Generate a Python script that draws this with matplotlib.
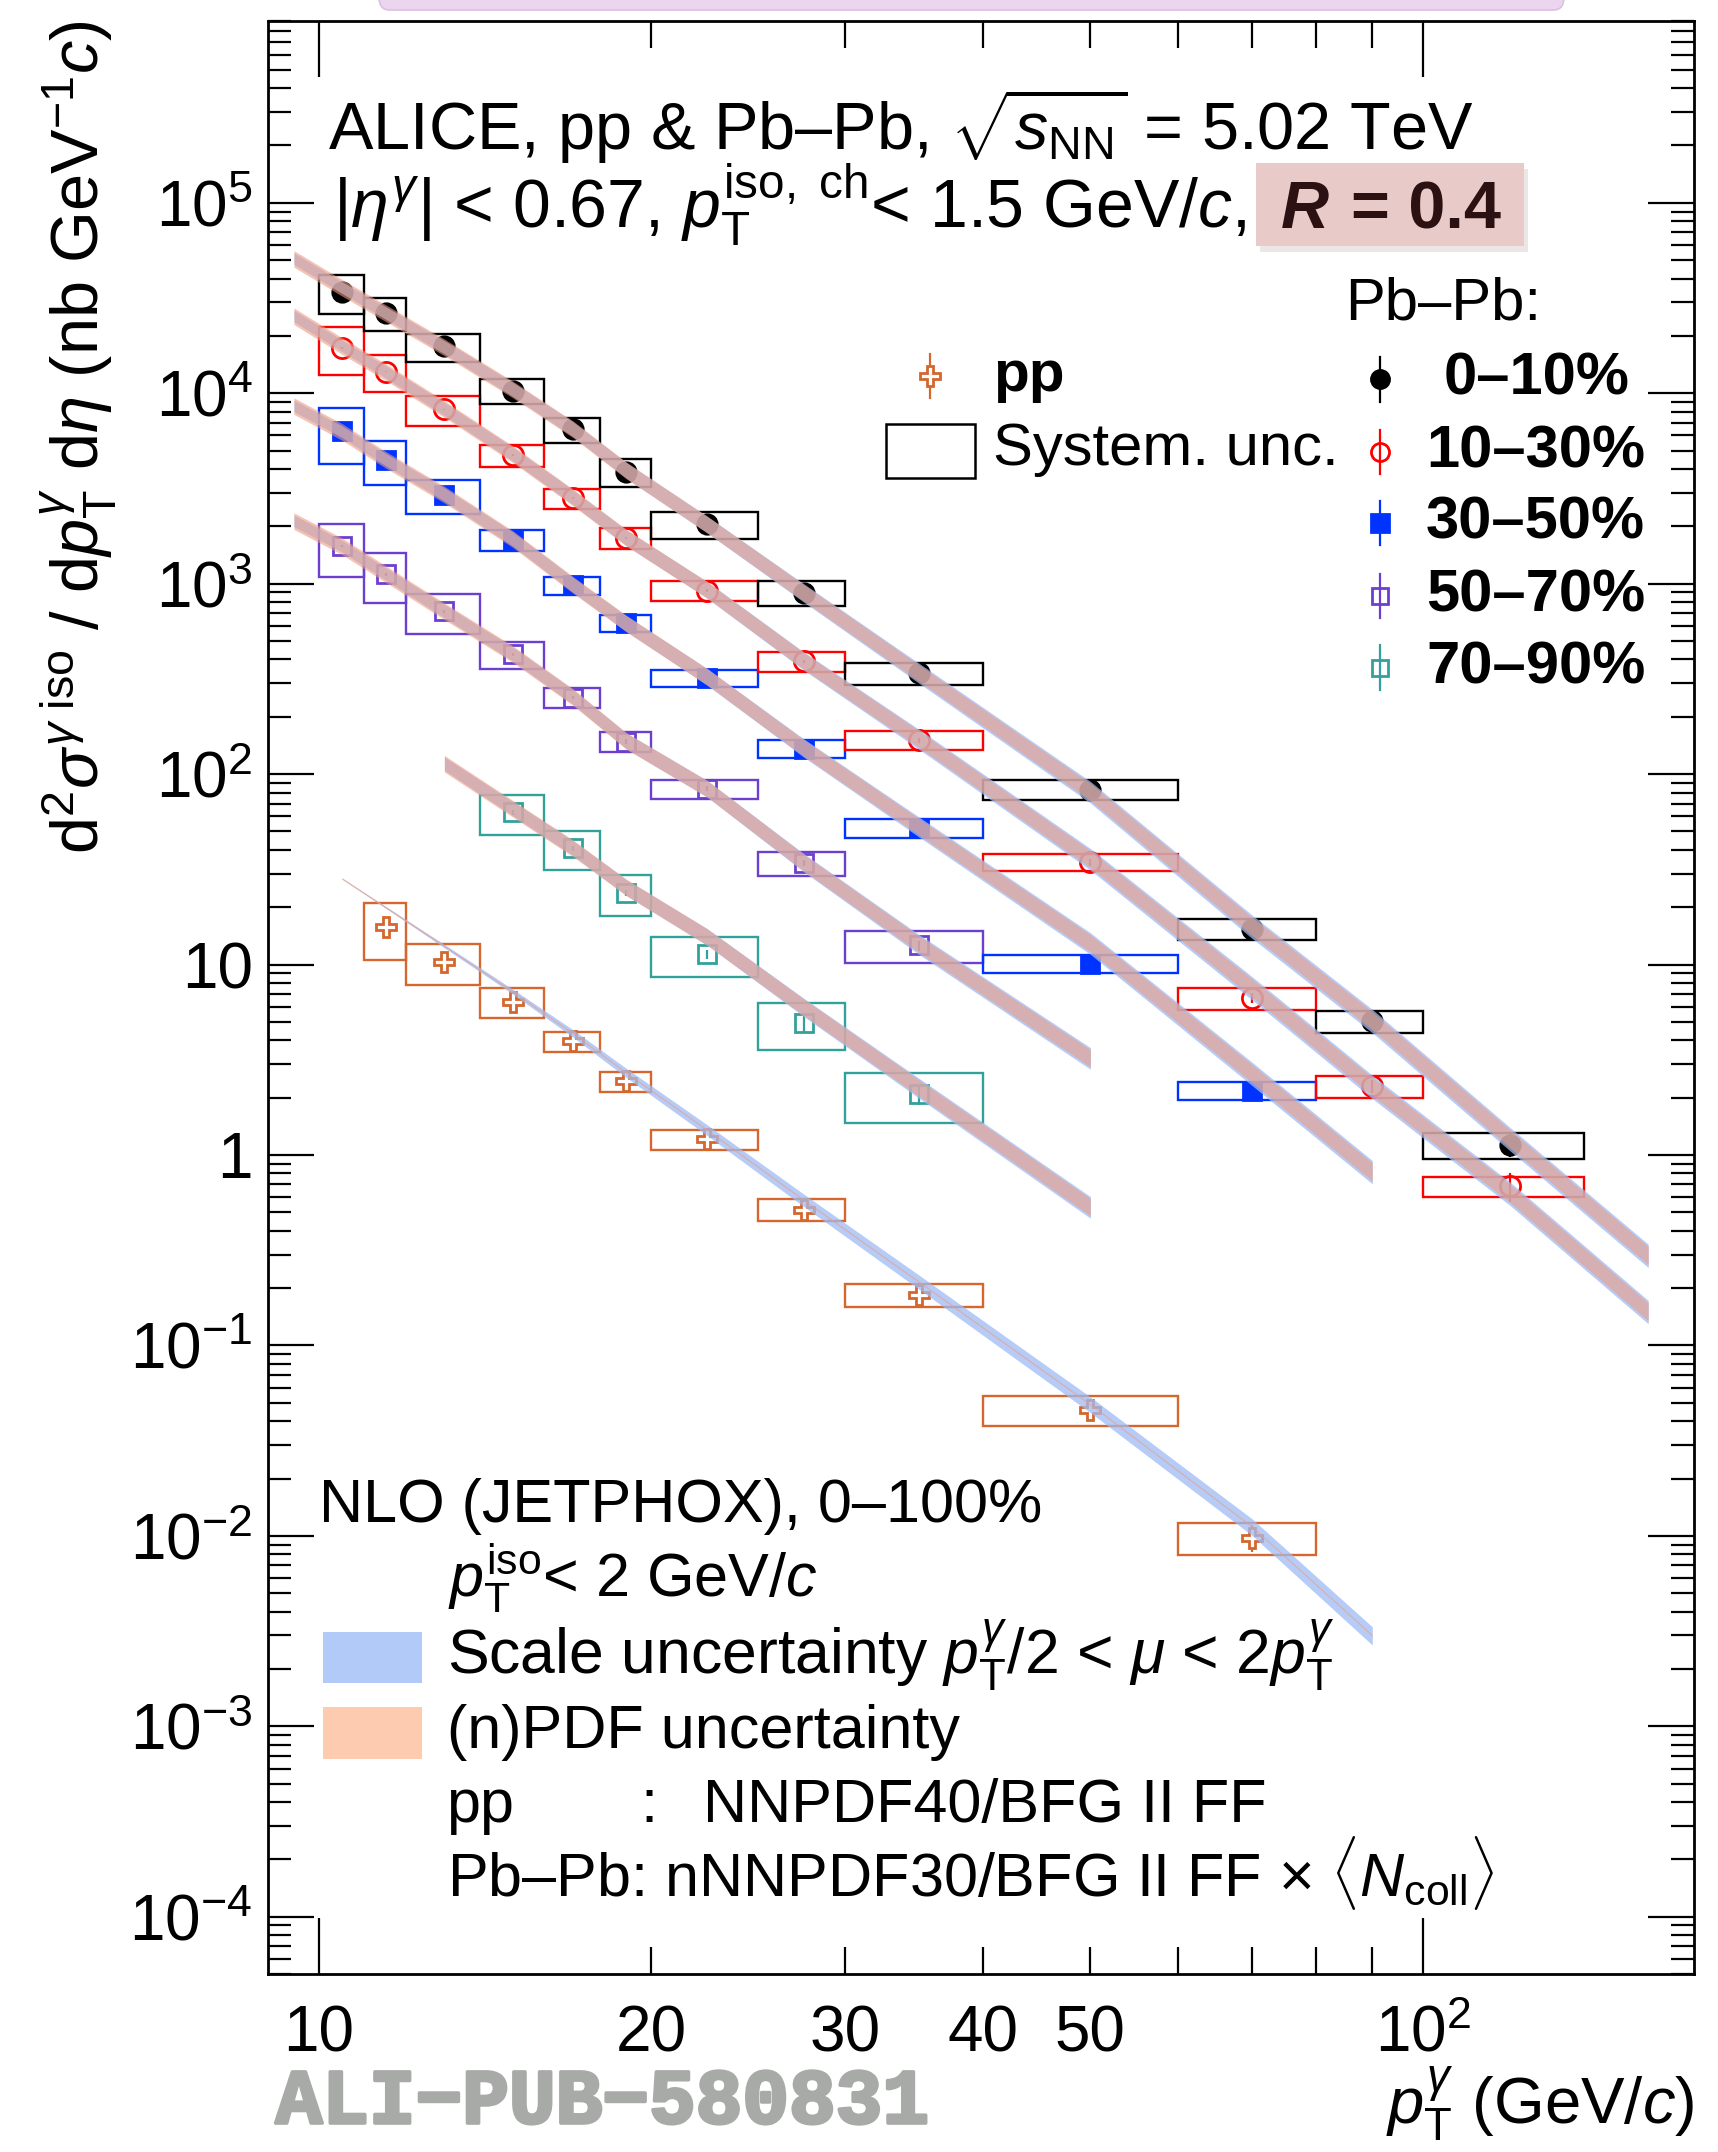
import numpy as np
import matplotlib
matplotlib.use("Agg")
import matplotlib.pyplot as plt
import matplotlib.patheffects as pe
from matplotlib.patches import Rectangle, FancyBboxPatch
from matplotlib.ticker import FixedLocator, FuncFormatter, NullFormatter

plt.rcParams['font.family'] = ['Liberation Sans', 'DejaVu Sans']
plt.rcParams['mathtext.fontset'] = 'custom'
plt.rcParams['mathtext.rm'] = 'Liberation Sans'
plt.rcParams['mathtext.it'] = 'Liberation Sans:italic'
plt.rcParams['mathtext.bf'] = 'Liberation Sans:bold'

nan = np.nan

# pT bins (GeV/c)
bin_lo = [10, 11, 12, 14, 16, 18, 20, 25, 30, 40, 60, 80, 100]
bin_hi = [11, 12, 14, 16, 18, 20, 25, 30, 40, 60, 80, 100, 140]
pt = [10.5, 11.5, 13, 15, 17, 19, 22.5, 27.5, 35, 50, 70, 90, 120]

# measured cross sections (nb GeV^-1 c), relative syst. and stat. uncertainties
y_0010 = [3.39e4, 2.64e4, 1.76e4, 1.03e4, 6.46e3, 3.86e3, 2.05e3, 897, 339, 82.7, 15.4, 5.04, 1.13]
sys_0010 = [0.23, 0.20, 0.17, 0.15, 0.15, 0.17, 0.16, 0.15, 0.13, 0.12, 0.13, 0.13, 0.16]
stat_0010 = [0.01, 0.01, 0.01, 0.01, 0.01, 0.015, 0.02, 0.02, 0.03, 0.04, 0.05, 0.07, 0.14]

y_1030 = [1.73e4, 1.30e4, 8.22e3, 4.73e3, 2.82e3, 1.74e3, 918, 391, 151, 34.4, 6.67, 2.30, 0.684]
sys_1030 = [0.28, 0.22, 0.18, 0.13, 0.12, 0.13, 0.12, 0.12, 0.11, 0.10, 0.13, 0.13, 0.12]
stat_1030 = [0.01, 0.01, 0.01, 0.01, 0.015, 0.015, 0.02, 0.02, 0.03, 0.04, 0.06, 0.08, 0.17]

y_3050 = [6.31e3, 4.45e3, 2.92e3, 1.70e3, 979, 622, 320, 136, 52.1, 10.1, 2.18, nan, nan]
sys_3050 = [0.33, 0.26, 0.20, 0.13, 0.11, 0.10, 0.10, 0.11, 0.11, 0.11, 0.11, nan, nan]
stat_3050 = [0.01, 0.01, 0.015, 0.015, 0.02, 0.02, 0.02, 0.03, 0.04, 0.05, 0.10, nan, nan]

y_5070 = [1.58e3, 1.12e3, 716, 425, 252, 148, 83.8, 34.1, 12.6, nan, nan, nan, nan]
sys_5070 = [0.31, 0.29, 0.24, 0.16, 0.12, 0.12, 0.115, 0.14, 0.19, nan, nan, nan, nan]
stat_5070 = [0.015, 0.015, 0.02, 0.02, 0.02, 0.03, 0.03, 0.04, 0.06, nan, nan, nan, nan]

y_7090 = [nan, nan, nan, 62.9, 40.9, 23.8, 11.3, 4.92, 2.08, nan, nan, nan, nan]
sys_7090 = [nan, nan, nan, 0.24, 0.23, 0.24, 0.24, 0.28, 0.29, nan, nan, nan, nan]
stat_7090 = [nan, nan, nan, 0.03, 0.03, 0.04, 0.05, 0.10, 0.12, nan, nan, nan, nan]

y_pp = [nan, 15.8, 10.3, 6.38, 3.97, 2.44, 1.21, 0.517, 0.185, 0.046, 0.0098, nan, nan]
sys_pp = [nan, 0.33, 0.24, 0.18, 0.12, 0.12, 0.12, 0.13, 0.14, 0.18, 0.19, nan, nan]
stat_pp = [nan, 0.01, 0.01, 0.01, 0.01, 0.015, 0.02, 0.02, 0.03, 0.06, 0.16, nan, nan]

# NLO JETPHOX curves
nlo_pt = [9.5, 10.5, 11.5, 13, 15, 17, 19, 22.5, 27.5, 35, 50, 70, 90, 120, 160]
nlo_0010 = [5.1e4, 3.6e4, 2.65e4, 1.75e4, 1.05e4, 6.5e3, 3.95e3, 2.05e3, 900, 340, 81, 16, 5.1, 1.22, 0.298]
nlo_1030 = [2.55e4, 1.78e4, 1.3e4, 8.3e3, 4.8e3, 2.85e3, 1.75e3, 930, 395, 153, 36, 7.6, 2.3, 0.63, 0.151]
nlo_3050 = [8.6e3, 6.3e3, 4.5e3, 2.95e3, 1.72e3, 990, 620, 325, 138, 53, 13, 2.7, 0.82, nan, nan]
nlo_5070 = [2.14e3, 1.58e3, 1.13e3, 720, 428, 255, 150, 84, 34.5, 12.8, 3.24, nan, nan, nan, nan]
nlo_7090 = [nan, nan, nan, 114, 66, 41, 25.5, 14, 6.0, 2.25, 0.535, nan, nan, nan, nan]
nlo_pp = [nan, 28.3, 20, 12.5, 7.2, 4.35, 2.7, 1.35, 0.58, 0.215, 0.049, 0.0112, 0.0030, nan, nan]
scale_pbpb = [0.07, 0.07, 0.075, 0.08, 0.085, 0.09, 0.095, 0.10, 0.11, 0.12, 0.13, 0.14, 0.14, 0.14, 0.14]
pdf_pbpb = [0.10, 0.10, 0.10, 0.10, 0.10, 0.10, 0.10, 0.10, 0.10, 0.10, 0.105, 0.11, 0.11, 0.11, 0.11]
scale_pp = [nan, 0.005, 0.01, 0.02, 0.03, 0.045, 0.055, 0.065, 0.075, 0.085, 0.095, 0.10, 0.11, nan, nan]
pdf_pp = [nan, 0.01, 0.01, 0.01, 0.01, 0.01, 0.01, 0.01, 0.01, 0.01, 0.01, 0.01, 0.01, nan, nan]

centralities = ["0–10%", "10–30%", "30–50%", "50–70%", "70–90%"]

c_black = "black"
c_red = "#ff0000"
c_blue = "#0033ff"
c_purple = "#6c3fcf"
c_teal = "#33a19b"
c_pp = "#d4662e"
c_scale = "#9ebcf5"
c_pdf = "#eb9d83"

fig = plt.figure(figsize=(17.18, 21.52), dpi=100)
ax = fig.add_axes([0.156, 0.0827, 0.830, 0.9075])
ax.set_xscale("log")
ax.set_yscale("log")
ax.set_xlim(9, 176)
ax.set_ylim(5e-5, 9e5)


def draw_series(y, sys, stat, color, marker, mfc, ms):
    for i in range(len(pt)):
        if np.isnan(y[i]):
            continue
        ax.add_patch(Rectangle((bin_lo[i], y[i] * (1 - sys[i])), bin_hi[i] - bin_lo[i],
                               2 * y[i] * sys[i], fill=False, ec=color, lw=1.7, zorder=2))
    ya = np.array(y)
    ax.errorbar(pt, ya, yerr=ya * np.array(stat), fmt=marker, color=color, mfc=mfc, mec=color,
                ms=ms, mew=2.0, elinewidth=1.6, capsize=0, zorder=3)


def draw_band(y, scale, pdf):
    y = np.array(y)
    m = ~np.isnan(y)
    x = np.array(nlo_pt)[m]
    yy = y[m]
    s = np.array(scale)[m]
    p = np.array(pdf)[m]
    ax.fill_between(x, yy * (1 - s), yy * (1 + s), color=c_scale, alpha=0.75, lw=0, zorder=4)
    ax.fill_between(x, yy * (1 - p), yy * (1 + p), color=c_pdf, alpha=0.6, lw=0, zorder=5)


draw_series(y_pp, sys_pp, stat_pp, c_pp, "P", "white", 15)
draw_series(y_7090, sys_7090, stat_7090, c_teal, "s", "none", 13)
draw_series(y_5070, sys_5070, stat_5070, c_purple, "s", "none", 13)
draw_series(y_3050, sys_3050, stat_3050, c_blue, "s", c_blue, 13)
draw_series(y_1030, sys_1030, stat_1030, c_red, "o", "none", 14.5)
draw_series(y_0010, sys_0010, stat_0010, c_black, "o", c_black, 14)

draw_band(nlo_0010, scale_pbpb, pdf_pbpb)
draw_band(nlo_1030, scale_pbpb, pdf_pbpb)
draw_band(nlo_3050, scale_pbpb, pdf_pbpb)
draw_band(nlo_5070, scale_pbpb, pdf_pbpb)
draw_band(nlo_7090, scale_pbpb, pdf_pbpb)
draw_band(nlo_pp, scale_pp, pdf_pp)

# axes / ticks, ROOT style
ax.xaxis.set_major_locator(FixedLocator([10, 100]))
ax.xaxis.set_minor_locator(FixedLocator([20, 30, 40, 50, 60, 70, 80, 90]))
ax.xaxis.set_major_formatter(FuncFormatter(lambda v, p: "10" if v == 10 else r"$10^{2}$"))
ax.xaxis.set_minor_formatter(FuncFormatter(lambda v, p: "%d" % v if v <= 50 else ""))

decades = [10.0 ** e for e in range(-4, 6)]
ax.yaxis.set_major_locator(FixedLocator(decades))
minors = [m * 10.0 ** e for e in range(-5, 6) for m in range(2, 10) if 5e-5 <= m * 10.0 ** e <= 9e5]
ax.yaxis.set_minor_locator(FixedLocator(minors))
ax.yaxis.set_minor_formatter(NullFormatter())


def yfmt(v, p):
    e = int(round(np.log10(v)))
    if e == 0:
        return "1"
    if e == 1:
        return "10"
    return r"$10^{%d}$" % e


ax.yaxis.set_major_formatter(FuncFormatter(yfmt))
ax.tick_params(which="both", direction="in", top=True, right=True, labelsize=46, width=1.6)
ax.tick_params(axis="x", which="major", length=40, pad=22)
ax.tick_params(axis="x", which="minor", length=19.5, pad=22)
ax.tick_params(axis="y", which="major", length=33, pad=11)
ax.tick_params(axis="y", which="minor", length=16.5)
for sp in ax.spines.values():
    sp.set_linewidth(2)

# header text
tr = ax.transAxes
ax.text(0.0421, 0.9342, r"ALICE, pp & Pb–Pb, $\sqrt{s_{\rm NN}}$ = 5.02 TeV", transform=tr,
        fontsize=48, va="baseline")
ax.text(0.0456, 0.894, r"|$\eta^{\gamma}$| < 0.67, $p_{\rm T}^{\rm iso,\ ch}$< 1.5 GeV/$c$,", transform=tr,
        fontsize=49, va="baseline")
ax.add_patch(Rectangle((0.6958, 0.8818), 0.1880, 0.0423, transform=tr, color="#d8d0d0", alpha=0.5,
                       lw=0, zorder=6))
ax.add_patch(Rectangle((0.6928, 0.8850), 0.1880, 0.0423, transform=tr, color="#e8cbc8", lw=0, zorder=7))
ax.text(0.7104, 0.894, "R", transform=tr, fontsize=48, fontweight="bold", fontstyle="italic",
        color="#2b1111", va="baseline", zorder=8)
ax.text(0.7595, 0.894, "= 0.4", transform=tr, fontsize=48, fontweight="bold",
        color="#2b1111", va="baseline", zorder=8)

# legend: pp and syst
ax.plot([0.4642, 0.4642], [0.8069, 0.8295], color=c_pp, lw=1.6, transform=tr)
ax.plot([0.4642], [0.8182], marker="P", ms=15, mfc="white", mec=c_pp, mew=2.0, transform=tr, ls="none")
ax.text(0.5084, 0.8182, "pp", transform=tr, fontsize=42, fontweight="bold", va="center")
ax.add_patch(Rectangle((0.4334, 0.766), 0.0624, 0.0276, transform=tr, fill=False, ec="black", lw=1.8))
ax.text(0.5084, 0.7808, "System. unc.", transform=tr, fontsize=43, va="center")

# legend: Pb-Pb centralities
ax.text(0.7553, 0.8553, "Pb–Pb:", transform=tr, fontsize=43, va="center")
leg_y = [0.8165, 0.7794, 0.7429, 0.7056, 0.6690]
leg_sty = [(c_black, "o", c_black, 13), (c_red, "o", "none", 13), (c_blue, "s", c_blue, 13),
           (c_purple, "s", "none", 12), (c_teal, "s", "none", 12)]
for lab, yy, (col, mk, fc, ms) in zip(centralities, leg_y, leg_sty):
    ax.plot([0.7798, 0.7798], [yy - 0.0113, yy + 0.0113], color=col, lw=1.6, transform=tr)
    ax.plot([0.7798], [yy], marker=mk, ms=ms, mfc=fc, mec=col, mew=2.0, transform=tr, ls="none")
    xt = 0.8247 if lab == "0–10%" else 0.8121
    ax.text(xt, yy, lab, transform=tr, fontsize=43, fontweight="bold", va="center")

# NLO block
ax.text(0.0355, 0.2314, "NLO (JETPHOX), 0–100%", transform=tr, fontsize=44, va="baseline")
ax.text(0.1259, 0.1932, r"$p_{\rm T}^{\rm iso}$< 2 GeV/$c$", transform=tr, fontsize=44, va="baseline")
ax.add_patch(Rectangle((0.0386, 0.1490), 0.0694, 0.0263, transform=tr, color="#b2caf8", lw=0))
ax.add_patch(Rectangle((0.0386, 0.1101), 0.0694, 0.0266, transform=tr, color="#fdcbb0", lw=0))
ax.text(0.1252, 0.1539, r"Scale uncertainty $p_{\rm T}^{\gamma}$/2 < $\mu$ < 2$p_{\rm T}^{\gamma}$",
        transform=tr, fontsize=45, va="baseline")
ax.text(0.1252, 0.1159, "(n)PDF uncertainty", transform=tr, fontsize=44, va="baseline")
ax.text(0.1252, 0.0778, "pp", transform=tr, fontsize=44, va="baseline")
ax.text(0.2609, 0.0778, ":", transform=tr, fontsize=44, va="baseline")
ax.text(0.3050, 0.0778, "NNPDF40/BFG II FF", transform=tr, fontsize=44, va="baseline")
ax.text(0.1252, 0.0399, r"Pb–Pb: nNNPDF30/BFG II FF × $\langle N_{\rm coll}\rangle$", transform=tr,
        fontsize=44, va="baseline")

# axis titles
fig.text(0.986, 0.0130, r"$p_{\rm T}^{\gamma}$ (GeV/$c$)", fontsize=47, ha="right", va="baseline")
fig.text(0.046, 0.9907, r"d$^{2}\sigma^{\gamma\ \rm iso}$ / d$p_{\rm T}^{\gamma}$ d$\eta$ (nb GeV$^{-1}$$c$)",
         fontsize=48, rotation=90, ha="center", va="top")

fig.text(0.1604, 0.006, "ALI−PUB−580831", fontsize=56, fontweight="bold", family="Liberation Mono",
         color="#a8aaa8", va="bottom",
         path_effects=[pe.withStroke(linewidth=2.5, foreground="#a8aaa8")])

# highlight frame edge at the very top
fig.patches.append(FancyBboxPatch((379 / 1718, 1 - 10 / 2152), (1564 - 379) / 1718, 30 / 2152,
                                  boxstyle="round,pad=0,rounding_size=0.006",
                                  transform=fig.transFigure, fc="#ecd5ef", ec="#dcbfe2", lw=1.2))

fig.savefig("out.png", dpi=100)
